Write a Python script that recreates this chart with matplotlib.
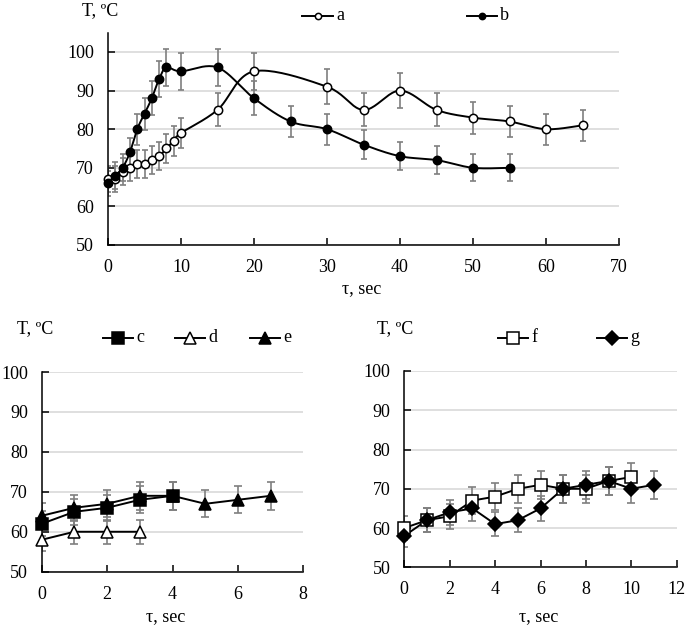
import numpy as np
import matplotlib.pyplot as plt
from matplotlib.lines import Line2D

plt.rcParams['font.family'] = ['Liberation Serif', 'DejaVu Serif']
plt.rcParams['font.size'] = 13

# top panel: series a and b
t_a = [0, 1, 2, 3, 4, 5, 6, 7, 8, 9, 10, 15, 20, 30, 35, 40, 45, 50, 55, 60, 65]
T_a = [67, 67, 69, 70, 71, 71, 72, 73, 75, 77, 79, 85, 95, 91, 85, 90, 85, 83, 82, 80, 81]
t_b = [0, 1, 2, 3, 4, 5, 6, 7, 8, 10, 15, 20, 25, 30, 35, 40, 45, 50, 55]
T_b = [66, 68, 70, 74, 80, 84, 88, 93, 96, 95, 96, 88, 82, 80, 76, 73, 72, 70, 70]

# bottom left: c, d, e
t_c = [0, 1, 2, 3, 4]
T_c = [62, 65, 66, 68, 69]
t_d = [0, 1, 2, 3]
T_d = [58, 60, 60, 60]
t_e = [0, 1, 2, 3, 4, 5, 6, 7]
T_e = [64, 66, 67, 69, 69, 67, 68, 69]

# bottom right: f, g
t_f = [0, 1, 2, 3, 4, 5, 6, 7, 8, 9, 10]
T_f = [60, 62, 63, 67, 68, 70, 71, 70, 70, 72, 73]
t_g = [0, 1, 2, 3, 4, 5, 6, 7, 8, 9, 10, 11]
T_g = [58, 62, 64, 65, 61, 62, 65, 70, 71, 72, 70, 71]

err_pct = 5  # error bars are +-5 % of the value

W, H = 685, 626
ERR_COLOR = '#7f7f7f'


def smooth(x, y, n=24):
    # Excel-like smoothed line (Catmull-Rom as cubic Bezier)
    p = np.column_stack([x, y]).astype(float)
    ext = np.vstack([p[0], p, p[-1]])
    s = np.linspace(0, 1, n)[:, None]
    segs = []
    for i in range(len(p) - 1):
        p0, p1, p2, p3 = ext[i], ext[i + 1], ext[i + 2], ext[i + 3]
        c1 = p1 + (p2 - p0) / 6
        c2 = p2 - (p3 - p1) / 6
        segs.append((1 - s)**3 * p1 + 3 * (1 - s)**2 * s * c1 + 3 * (1 - s) * s**2 * c2 + s**3 * p2)
    pts = np.vstack(segs)
    return pts[:, 0], pts[:, 1]


def style_axes(ax, xmax, xstep, ymax):
    ax.set_xlim(0, xmax)
    ax.set_ylim(50, ymax)
    ax.set_xticks(np.arange(0, xmax + 0.1, xstep))
    ax.set_yticks(np.arange(50, 101, 10))
    ax.yaxis.grid(True, color='#d9d9d9', lw=1.2)
    ax.set_axisbelow(True)
    for s in ['top', 'right']:
        ax.spines[s].set_visible(False)
    for s in ['left', 'bottom']:
        ax.spines[s].set_linewidth(1.1)
    ax.tick_params(direction='in', length=5, width=1.1, pad=10)


def series(ax, x, y, marker, ms, fc, cap, smooth_line=False):
    x = np.asarray(x, float)
    y = np.asarray(y, float)
    ax.errorbar(x, y, yerr=y * err_pct / 100, fmt='none', ecolor=ERR_COLOR,
                elinewidth=1.2, capsize=cap, capthick=1.2, zorder=2)
    if smooth_line:
        xs, ys = smooth(x, y)
    else:
        xs, ys = x, y
    ax.plot(xs, ys, color='k', lw=1.4, zorder=3)
    ax.plot(x, y, ls='none', marker=marker, ms=ms, mfc=fc, mec='k', mew=1.1, zorder=4,
            clip_on=False)


def legend_item(fig, x0, x1, y, label, marker, ms, fc):
    fy = 1 - y / H
    fig.add_artist(Line2D([x0 / W, x1 / W], [fy, fy], color='k', lw=1.4,
                          transform=fig.transFigure))
    fig.add_artist(Line2D([(x0 + x1) / 2 / W], [fy], ls='none', marker=marker, ms=ms,
                          mfc=fc, mec='k', mew=1.1, transform=fig.transFigure))
    fig.text((x1 + 3) / W, fy, label, va='center', ha='left')


fig = plt.figure(figsize=(W / 100, H / 100), dpi=100)

# top chart
ax1 = fig.add_axes([108 / W, 1 - 245 / H, 511 / W, (245 - 32.7) / H])
style_axes(ax1, 70, 10, 105)
series(ax1, t_a, T_a, 'o', 6, 'white', 2.5, smooth_line=True)
series(ax1, t_b, T_b, 'o', 6, 'black', 2.5, smooth_line=True)
fig.text(82 / W, 1 - 11 / H, 'T, ºC', va='center', ha='left')
fig.text(362 / W, 1 - 289 / H, 'τ, sec', va='center', ha='center')
legend_item(fig, 302, 333, 16, 'a', 'o', 4.5, 'white')
legend_item(fig, 467, 497, 16, 'b', 'o', 4.5, 'black')

# bottom left chart
ax2 = fig.add_axes([41.7 / W, 1 - 571.7 / H, 261.6 / W, 199.7 / H])
style_axes(ax2, 8, 2, 100)
series(ax2, t_e, T_e, '^', 8, 'black', 3)
series(ax2, t_d, T_d, '^', 8, 'white', 3)
series(ax2, t_c, T_c, 's', 8, 'black', 3)
fig.text(17 / W, 1 - 329 / H, 'T, ºC', va='center', ha='left')
fig.text(166 / W, 1 - 617 / H, 'τ, sec', va='center', ha='center')
legend_item(fig, 103, 133, 338, 'c', 's', 8, 'black')
legend_item(fig, 175, 205, 338, 'd', '^', 8, 'white')
legend_item(fig, 250, 280, 338, 'e', '^', 8, 'black')

# bottom right chart
ax3 = fig.add_axes([404.3 / W, 1 - 567.3 / H, 272.4 / W, 196.3 / H])
style_axes(ax3, 12, 2, 100)
series(ax3, t_f, T_f, 's', 9, 'white', 3)
series(ax3, t_g, T_g, 'D', 7.5, 'black', 3)
fig.text(377 / W, 1 - 329 / H, 'T, ºC', va='center', ha='left')
fig.text(539 / W, 1 - 617 / H, 'τ, sec', va='center', ha='center')
legend_item(fig, 498, 528, 338, 'f', 's', 9, 'white')
legend_item(fig, 597, 627, 338, 'g', 'D', 7.5, 'black')

fig.savefig('out.png', dpi=100)
